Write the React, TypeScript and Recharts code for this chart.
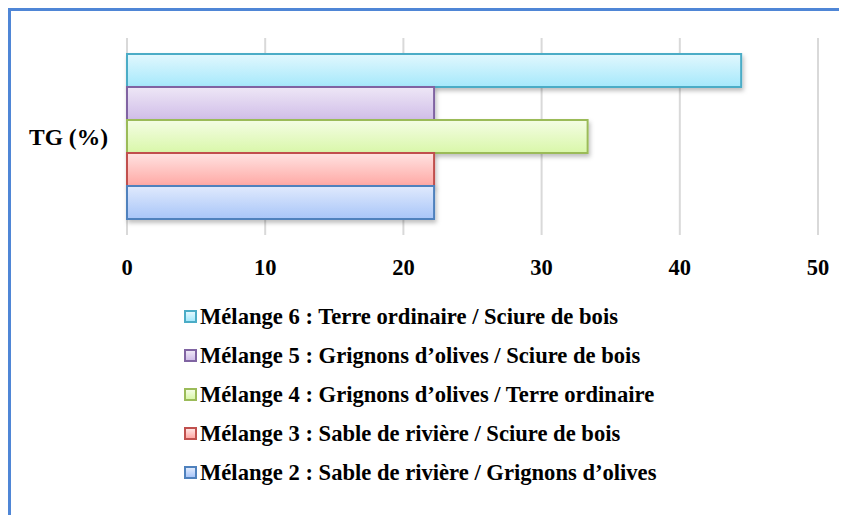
import React from 'react';
import { BarChart, Bar, XAxis, YAxis, CartesianGrid, Legend } from 'recharts';

const categories = ['TG (%)'];
const seriesNames = [
  'Mélange 6 : Terre ordinaire / Sciure de bois',
  'Mélange 5 : Grignons d\u2019olives / Sciure de bois',
  'Mélange 4 : Grignons d\u2019olives / Terre ordinaire',
  'Mélange 3 : Sable de rivière / Sciure de bois',
  'Mélange 2 : Sable de rivière / Grignons d\u2019olives',
];
const seriesValues = [44.44, 22.22, 33.33, 22.22, 22.22];
const xTicks = [0, 10, 20, 30, 40, 50];

// top, bottom, stroke
const palette = [
  ['#e2f8fe', '#a5e8fb', '#4bacc6'],
  ['#eee7f6', '#d0bde8', '#8064a2'],
  ['#f4fde4', '#d9f7a9', '#9bbb59'],
  ['#ffe3e2', '#ffa8a4', '#c0504d'],
  ['#e0eafd', '#a8c5f8', '#4f81bd'],
];

const keys = seriesNames.map((_, i) => `s${i}`);
const data = categories.map((name) => {
  const row: Record<string, any> = { name };
  keys.forEach((k, i) => (row[k] = seriesValues[i]));
  return row;
});

const font = '"Liberation Serif", "Times New Roman", serif';

function LegendBox(props: any) {
  const payload = [...(props.payload || [])].sort(
    (a: any, b: any) => keys.indexOf(a.dataKey) - keys.indexOf(b.dataKey)
  );
  return (
    <div style={{ fontFamily: font, fontWeight: 'bold', fontSize: 22.6, color: '#000' }}>
      {payload.map((p: any, i: number) => {
        const c = palette[keys.indexOf(p.dataKey)] || palette[i];
        return (
          <div key={i} style={{ height: 39, display: 'flex', alignItems: 'center' }}>
            <span
              style={{
                display: 'inline-block',
                width: 9,
                height: 9,
                border: `2px solid ${c[2]}`,
                background: `linear-gradient(${c[0]}, ${c[1]})`,
                marginRight: 3,
              }}
            />
            <span>{p.value}</span>
          </div>
        );
      })}
    </div>
  );
}

export default function App() {
  return (
    <div style={{ position: 'relative', width: 839, height: 507, overflow: 'hidden', background: '#fff' }}>
      <BarChart
        width={839}
        height={507}
        data={data}
        layout="vertical"
        margin={{ top: 30, right: 29, left: 0, bottom: 23 }}
        barCategoryGap={16}
        barGap={0}
      >
        <defs>
          {palette.map((c, i) => (
            <linearGradient key={i} id={`grad${i}`} x1="0" y1="0" x2="0" y2="1">
              <stop offset="0%" stopColor={c[0]} />
              <stop offset="100%" stopColor={c[1]} />
            </linearGradient>
          ))}
          <filter id="barShadow" x="-5%" y="-20%" width="110%" height="160%">
            <feDropShadow dx="1.5" dy="3" stdDeviation="2" floodColor="#000" floodOpacity="0.25" />
          </filter>
        </defs>
        <CartesianGrid horizontal={false} stroke="#d9d9d9" strokeWidth={2} />
        <XAxis
          type="number"
          domain={[0, 50]}
          ticks={xTicks}
          axisLine={false}
          tickLine={false}
          tickMargin={18}
          height={62}
          tick={{ fontFamily: font, fontWeight: 'bold', fontSize: 22.5, fill: '#000' }}
        />
        <YAxis
          type="category"
          dataKey="name"
          width={119}
          axisLine={false}
          tickLine={false}
          tickMargin={13}
          tick={{ fontFamily: font, fontWeight: 'bold', fontSize: 23.5, fill: '#000' }}
        />
        {keys.map((k, i) => (
          <Bar
            key={k}
            dataKey={k}
            name={seriesNames[i]}
            fill={`url(#grad${i})`}
            stroke={palette[i][2]}
            strokeWidth={2}
            filter="url(#barShadow)"
            isAnimationActive={false}
          />
        ))}
        <Legend
          verticalAlign="bottom"
          align="left"
          content={<LegendBox />}
          wrapperStyle={{ left: 176, width: 640 }}
        />
      </BarChart>
      <div
        style={{
          position: 'absolute',
          left: 0,
          top: 0,
          width: 900,
          height: 600,
          borderTop: '3px solid #4f86d6',
          borderLeft: '3px solid #4f86d6',
          pointerEvents: 'none',
        }}
      />
    </div>
  );
}
